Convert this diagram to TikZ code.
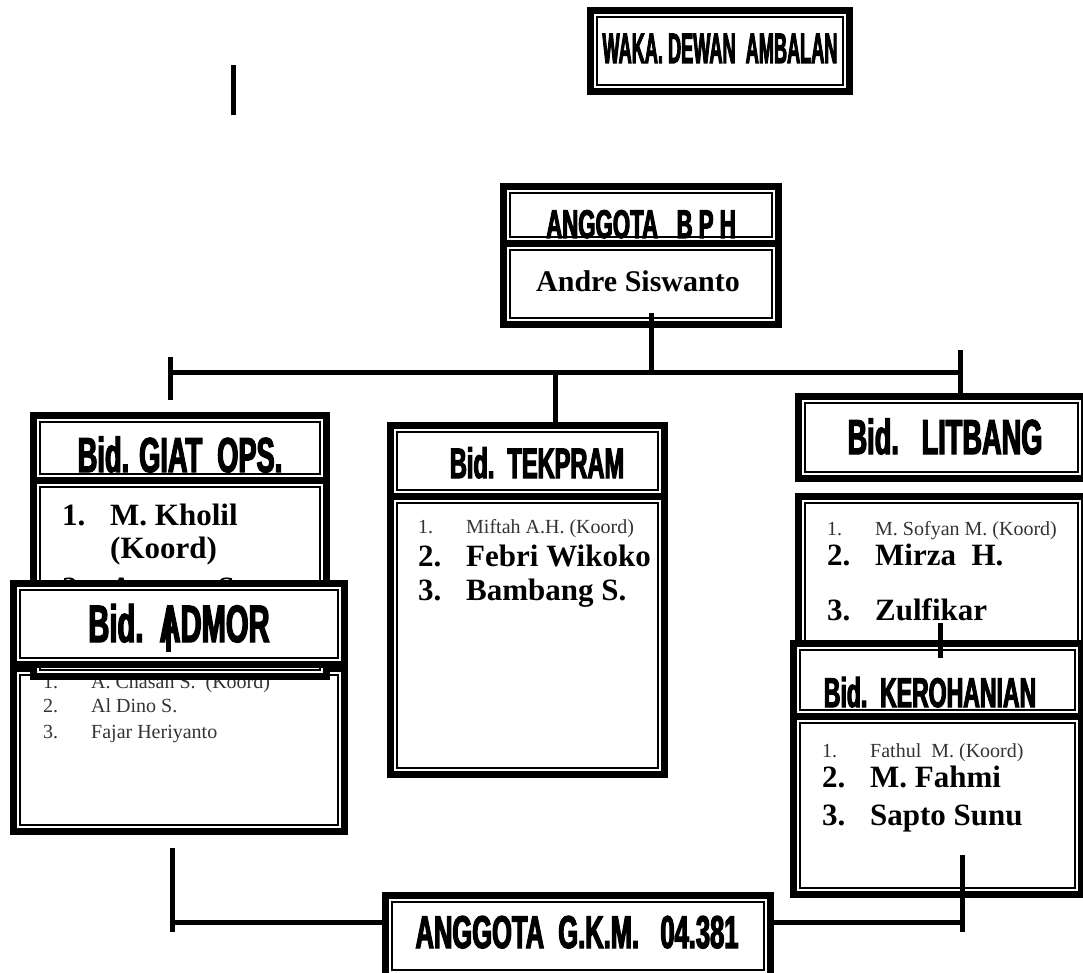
\documentclass[tikz,border=0pt]{standalone}
\usepackage{graphicx}
\usepackage{fontspec}
\setmainfont{Liberation Serif}
\newfontfamily\headfont[FakeStretch=0.555,FakeBold=2.6]{Liberation Sans Bold}
\newcommand{\nr}[1]{\makebox[48pt][l]{#1}}
% box from outer corner (x0,y0) to (x1,y1)
\newcommand{\bidbox}[5]{%
  \node[frame, minimum width={(#4-#2-7)*1pt}, minimum height={(#5-#3-7)*1pt}] (#1) at ({#2+3.5},{#3+3.5}) {};}

\begin{document}
\begin{tikzpicture}[x=1pt,y=-1pt]
\tikzset{frame/.style={draw, line width=7pt, fill=white, anchor=north west, inner sep=0pt, outer sep=0pt,
  path picture={\draw[line width=1.5pt] ([shift={(6.5pt,-6.5pt)}]path picture bounding box.north west) rectangle ([shift={(-6.5pt,6.5pt)}]path picture bounding box.south east);}}}
\tikzset{head/.style={anchor=base, inner sep=0pt, font=\headfont\fontsize{#1}{#1}\selectfont}}
\tikzset{big/.style={anchor=base west, inner sep=0pt, font=\bfseries\fontsize{31}{33}\selectfont}}
\tikzset{small/.style={anchor=base west, inner sep=0pt, text=black!80, font=\fontsize{20}{22}\selectfont}}
\tikzset{link/.style={line width=5pt}}

\useasboundingbox (0,0) rectangle (1083,973);

\bidbox{waka}{587}{7}{853}{95}
\node[head=42.5] (wakalbl) at (720,63) {\scalebox{0.77}[1]{WAKA.\ DEWAN\ \ AMBALAN}};
\draw[link] (233,65) -- (233,115);

\bidbox{bphname}{500}{240}{782}{328}
\bidbox{bphhead}{500}{183}{782}{247}
\node[head=40] (bphlbl) at (641,238) {ANGGOTA\ \ \ B P H};
\node[anchor=base, inner sep=0pt, font=\bfseries\fontsize{30}{32}\selectfont] (andre) at (638,291) {Andre Siswanto};

\coordinate (railL) at (170,372);
\coordinate (railR) at (960,372);
\coordinate (bphstub) at (651,313);
\coordinate (tektap) at (555,372);
\draw[link] (railL) -- (railR);
\draw[link] (railL) ++(0,-15) -- ++(0,43);
\draw[link] (railR) ++(0,-22) -- ++(0,57);
\draw[link] (bphstub) -- (bphstub |- railL);

\bidbox{tekbody}{387}{493}{668}{778}
\bidbox{tekhead}{387}{422}{668}{500}
\draw[link] (tektap) -- (tektap |- tekhead.north);
\node[head=42.5] (teklbl) at (537,478) {Bid.\ \ TEKPRAM};
\node[small] (tek1) at (418,533) {\nr{1.}Miftah A.H. (Koord)};
\node[big] (tek2) at (418,566) {\nr{2.}Febri Wikoko};
\node[big] (tek3) at (418,600) {\nr{3.}Bambang S.};

\bidbox{lithead}{795}{393}{1088}{482}
\node[head=49] (litlbl) at (945,454) {Bid.\ \ \ LITBANG};
\bidbox{litbody}{795}{493}{1088}{660}
\node[small] (lit1) at (827,535) {\nr{1.}M. Sofyan M. (Koord)};
\node[big] (lit2) at (827,565) {\nr{2.}Mirza\ \ H.};
\node[big] (lit3) at (827,620) {\nr{3.}Zulfikar};

\bidbox{kerbody}{790}{713}{1085}{898}
\bidbox{kerhead}{790}{640}{1085}{720}
\node[head=41.5] (kerlbl) at (930,707) {Bid.\ \ KEROHANIAN};
\node[small] (ker1) at (822,757) {\nr{1.}Fathul\ \ M. (Koord)};
\node[big] (ker2) at (822,787) {\nr{2.}M. Fahmi};
\node[big] (ker3) at (822,825) {\nr{3.}Sapto Sunu};
\draw[link] (940,623) -- (940,658);

\bidbox{admorbody}{10}{665}{348}{835}
\node[small] (adm1) at (43,688) {\nr{1.}A. Chasan S.\ \ (Koord)};
\node[small] (adm2) at (43,712) {\nr{2.}Al Dino S.};
\node[small] (adm3) at (43,738) {\nr{3.}Fajar Heriyanto};

\bidbox{giatbody}{30}{477}{330}{680}
\bidbox{giathead}{30}{412}{330}{484}
\node[head=49] (giatlbl) at (180,472) {Bid. GIAT\ \ OPS.};
\node[big] (giat1) at (62,525) {\nr{1.}M. Kholil};
\node[big] (giat1b) at (110,558) {(Koord)};
\node[big] (giat2) at (62,598) {\nr{2.}A\hspace{85pt}S.};

\bidbox{admorhead}{10}{580}{348}{668}
\node[head=52.5] (admorlbl) at (179,642) {Bid.\ \ ADMOR};
\draw[link] (168,608) -- (168,652);

\bidbox{gkm}{382}{892}{774}{980}
\node[head=46] (gkmlbl) at (577,948) {ANGGOTA\ \ G.K.M.\ \ \ 04.381};
\coordinate (baseL) at (172,922);
\coordinate (baseR) at (962,922);
\draw[link] (baseL) -- (gkm.west |- baseL);
\draw[link] (gkm.east |- baseR) -- (baseR);
\draw[link] (baseL) ++(0,-74) -- ++(0,84);
\draw[link] (baseR) ++(0,-67) -- ++(0,77);

\end{tikzpicture}
\end{document}
